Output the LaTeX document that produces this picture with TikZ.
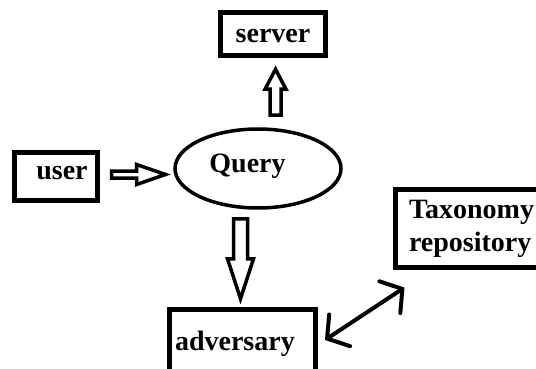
\documentclass[tikz,border=0pt]{standalone}
\usepackage{fontspec}
\setmainfont{Liberation Serif}
\usetikzlibrary{shapes.geometric,arrows.meta,calc}
\tikzset{
  box/.style={draw=black, line width=5pt, rectangle, inner sep=0pt, font=\fontsize{28}{33}\selectfont\bfseries},
  oval/.style={draw=black, line width=3.5pt, ellipse, inner sep=0pt, font=\fontsize{28}{33}\selectfont\bfseries},
  blockarr/.style={draw=black, fill=white, line width=3.5pt, line join=miter},
  dblarr/.style={draw=black, line width=4pt, line cap=round, {Straight Barb[length=15pt, width=38pt, line cap=round]}-{Straight Barb[length=15pt, width=38pt, line cap=round]}}
}
\begin{document}
\begin{tikzpicture}[x=1pt, y=-1pt]
\useasboundingbox (0,0) rectangle (536,369);
\clip (0,0) rectangle (536,369);
\fill[white] (0,0) rectangle (536,369);

\node[box, minimum width=105pt, minimum height=43pt, text height=18pt, text depth=0pt] (server) at (273,34) {server};
\node[box, minimum width=83pt, minimum height=48pt, text height=13pt, text depth=6pt] (user) at (56,176) {\hspace*{12pt}user};
\node[oval, minimum width=166pt, minimum height=79pt, text height=13pt, text depth=6pt] (query) at (258,168.5) {Query\hspace*{21pt}};
\node[box, minimum width=146pt, minimum height=80pt, inner xsep=5.5pt, text width=135pt, align=left, text height=13pt, text depth=12pt] (adv) at (242.5,349.5) {adversary};
\node[box, minimum width=160pt, minimum height=78pt, inner xsep=13.5pt, text width=133pt, align=left] (tax) at (475.5,228.5) {Taxonomy\\repository};

% user -> query
\coordinate (ra) at ($(user.east)+(11.5,-1.5)$);
\draw[blockarr] (ra) ++(0,-3.5) -- ++(25,0) -- ++(0,-6.5) -- ++(29,10) -- ++(-29,10) -- ++(0,-6.5) -- ++(-25,0) -- cycle;

% query -> server
\coordinate (ua) at ($(query.north)+(17.5,-12)$);
\draw[blockarr] (ua) ++(-5.5,0) -- ++(0,-26) -- ++(-5,0) -- ++(10.5,-20) -- ++(10.5,20) -- ++(-5,0) -- ++(0,26) -- cycle;

% query -> adversary
\coordinate (da) at ($(query.south)+(-17.5,9)$);
\draw[blockarr] (da) ++(-7,0) -- ++(0,40) -- ++(-6,0) -- ++(13,40) -- ++(13,-40) -- ++(-6,0) -- ++(0,-40) -- cycle;

% adversary <-> taxonomy
\draw[dblarr] ($(adv.east)+(7,-9.5)$) -- ($(tax.south west)+(11.5,17.5)$);
\end{tikzpicture}
\end{document}
